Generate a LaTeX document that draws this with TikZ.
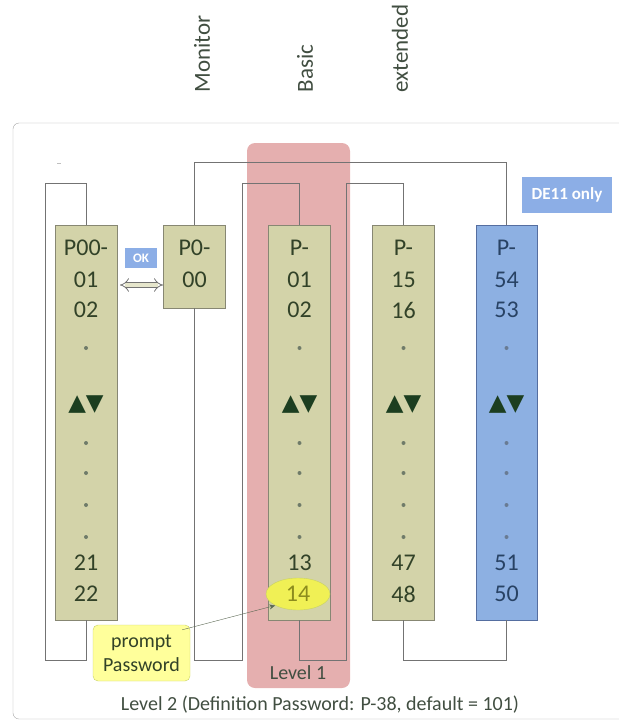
\documentclass[tikz,border=0pt]{standalone}
\usepackage{fontspec}
\setmainfont{Carlito}
\newfontfamily\symfont{DejaVu Sans}
\usetikzlibrary{arrows.meta,shapes.geometric}
\definecolor{colfill}{RGB}{211,211,169}
\definecolor{colline}{RGB}{135,135,115}
\definecolor{oltext}{RGB}{50,66,40}
\definecolor{bluefill}{RGB}{141,176,226}
\definecolor{blueline}{RGB}{85,110,160}
\definecolor{bluetext}{RGB}{40,66,100}
\definecolor{basicred}{RGB}{229,175,175}
\definecolor{wiregray}{RGB}{115,115,115}
\definecolor{tagblue}{RGB}{140,174,230}
\definecolor{pwyellow}{RGB}{240,240,85}
\definecolor{pwtext}{RGB}{140,140,30}
\definecolor{notefill}{RGB}{255,255,155}
\definecolor{notedraw}{RGB}{200,210,100}
\definecolor{labtext}{RGB}{65,78,65}
\definecolor{trigreen}{RGB}{28,62,32}
\tikzset{
  col/.style={draw=colline, fill=colfill, minimum width=62, minimum height=395, inner sep=0},
  cell/.style={font=\fontsize{24}{28}\selectfont, text=oltext, inner sep=0},
  wire/.style={draw=wiregray, line width=0.9pt},
  lbl/.style={font=\fontsize{20}{24}\selectfont, text=labtext},
  tag/.style={fill=tagblue, text=white, inner sep=0}
}
\begin{document}
\begin{tikzpicture}[x=1pt,y=-1pt]
  \useasboundingbox (0,0) rectangle (619,721);
  \draw[draw=gray!70, rounded corners=6] (13,123) rectangle (640,719);
  \fill[basicred, rounded corners=8] (247,143) rectangle (350,688);
  \draw[gray!50] (57,163) -- (61,163);

  \node[col] (p00) at (86,422.5) {};
  \node[col, minimum height=83] (mon) at (194.5,266.5) {};
  \node[col] (bas) at (299.5,422.5) {};
  \node[col] (ext) at (403.5,422.5) {};
  \node[col, draw=blueline, fill=bluefill, minimum width=61] (de) at (506.5,422.5) {};

  \draw[wire] (p00.south) -- ++(0,40) -| (45,183) -| (p00.north);
  \draw[wire] (mon.south) -- ++(0,352) -| (242,183) -| (bas.north);
  \draw[wire] (bas.south) -- ++(0,40) -| (346,183) -| (ext.north);
  \draw[wire] (ext.south) -- ++(0,40) -| (de.south);
  \draw[wire] (de.north) -- ++(0,-62) -| (mon.north);

  \foreach \x/\hd/\a/\b/\c/\tc in {86/P00-/01/02/21/oltext, 299.5/P-/01/02/13/oltext, 403.5/P-/15/16/47/oltext, 506.5/P-/54/53/51/bluetext}{
    \node[cell, text=\tc] at (\x,248) {\hd};
    \node[cell, text=\tc] at (\x,280) {\a};
    \node[cell, text=\tc] at (\x,310) {\b};
    \node[cell, text=\tc] at (\x,563) {\c};
    \node[font=\symfont\fontsize{23}{23}\selectfont, text=trigreen] at (\x,405) {▲▼};
    \foreach \y in {348,443,473,505,537} \fill[\tc!70] (\x,\y) circle (2);
  }
  \node[cell] at (86,594) {22}; \node[cell] at (403.5,594) {48};
  \node[cell, text=bluetext] at (506.5,594) {50};
  \node[cell] at (194.5,248) {P0-}; \node[cell] at (194.5,280) {00};
  \node[ellipse, draw=notedraw, fill=pwyellow, minimum width=64, minimum height=32, inner sep=0,
        font=\fontsize{24}{28}\selectfont, text=pwtext] (pw) at (298,594) {14};

  \node[tag, font=\fontsize{13}{14}\selectfont\bfseries, minimum width=32, minimum height=20] (ok) at (141,258) {OK};
  \coordinate (okl) at (120,285); \coordinate (okr) at (163,285);
  \draw[draw=gray!90!black, line width=0.8pt, double=colfill!60, double distance=4pt, {Implies}-{Implies}] (okl) -- (okr);
  \node[tag, font=\fontsize{17}{20}\selectfont\bfseries, minimum width=90, minimum height=36] (de11) at (567,195) {DE11 only};

  \node[draw=notedraw, fill=notefill, rounded corners=5, minimum width=97, minimum height=56, align=center,
        font=\fontsize{20}{24}\selectfont, text=oltext, inner sep=0] (prompt) at (141.5,653) {prompt\\Password};
  \draw[draw=oltext!80, -{Stealth[length=6pt,width=5pt]}] ([xshift=-8pt,yshift=-5pt]prompt.north east) -- (pw.south west);

  \node[lbl] (lvl1) at (298,673) {Level 1};
  \node[lbl] (lvl2) at (320,705) {Level 2 (Definition Password: P-38, default = 101)};
  \node[lbl, font=\fontsize{23}{26}\selectfont, rotate=90, anchor=west] (lmon) at (202,96) {Monitor};
  \node[lbl, font=\fontsize{23}{26}\selectfont, rotate=90, anchor=west] (lbas) at (305,96) {Basic};
  \node[lbl, font=\fontsize{23}{26}\selectfont, rotate=90, anchor=west] (lext) at (400,96) {extended};
\end{tikzpicture}
\end{document}
